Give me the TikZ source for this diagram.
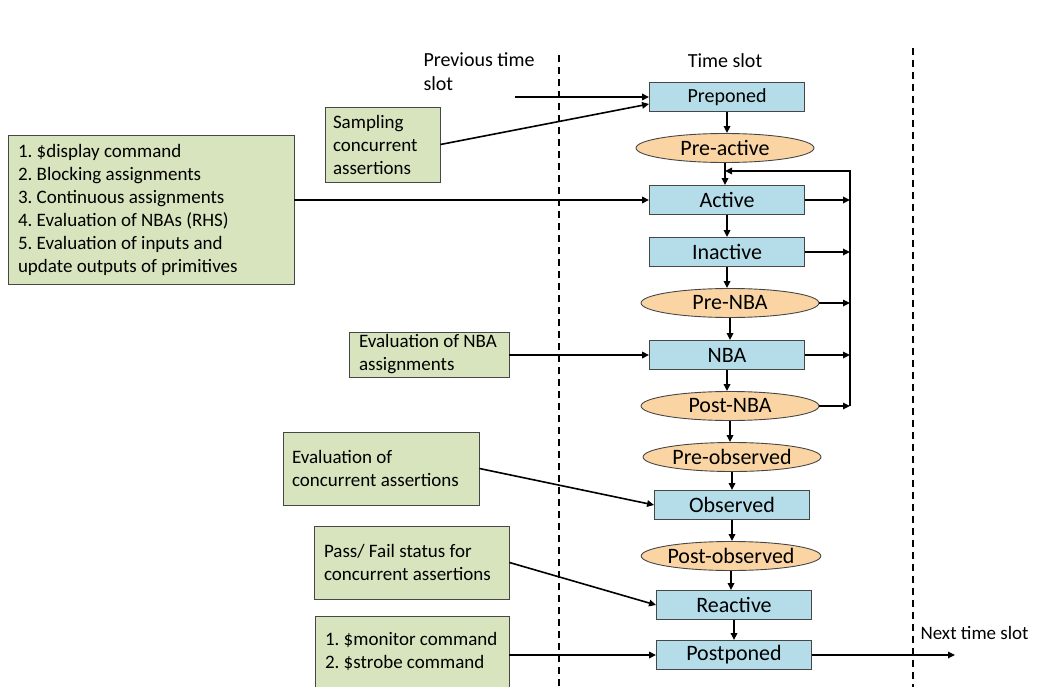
\documentclass[tikz,border=0pt]{standalone}
\usepackage{fontspec}
\setmainfont{Carlito}
\frenchspacing
\usetikzlibrary{shapes.geometric,arrows.meta,calc}

\definecolor{slotblue}{RGB}{180,221,233}
\definecolor{slotpeach}{RGB}{250,213,163}
\definecolor{notegreen}{RGB}{215,228,189}
\definecolor{edgegray}{RGB}{70,70,70}

\begin{document}
\begin{tikzpicture}[x=1pt,y=-1pt,
    stage/.style={draw=edgegray,fill=slotblue,line width=0.9pt,minimum width=155pt,minimum height=29pt,inner sep=0pt,font=\fontsize{22}{26}\selectfont},
    region/.style={ellipse,draw=edgegray,fill=slotpeach,line width=0.9pt,minimum width=178pt,minimum height=29pt,inner sep=0pt,font=\fontsize{22}{26}\selectfont},
    note/.style={draw=edgegray,fill=notegreen,line width=0.9pt,align=flush left,inner ysep=0pt,font=\fontsize{19}{23}\selectfont},
    flow/.style={-{Triangle[length=7pt,width=6.5pt]},line width=1.6pt},
    slotline/.style={line width=1.6pt,dash pattern=on 7pt off 5pt}]

  \useasboundingbox (0,0) rectangle (1046,687);

  % time slot boundaries
  \draw[slotline] (559,55) -- (559,687);
  \draw[slotline] (913,48) -- (913,687);

  \node[anchor=north west,align=flush left,font=\fontsize{20}{24}\selectfont] (prevlbl) at (420,49) {Previous time\\slot};
  \node[font=\fontsize{20}{24}\selectfont] (slotlbl) at (725,61) {Time slot};
  \node[anchor=west,font=\fontsize{19}{23}\selectfont] (nextlbl) at (917,633) {Next time slot};

  % regions of the time slot
  \node[stage,font=\fontsize{20}{24}\selectfont] (pre) at (727,97) {Preponed};
  \node[region] (preact) at (725,148) {Pre-active};
  \node[stage] (act) at (727,200) {Active};
  \node[stage] (inact) at (727,252) {Inactive};
  \node[region] (prenba) at (730,303) {Pre-NBA};
  \node[stage] (nba) at (727,355) {NBA};
  \node[region] (postnba) at (730,406) {Post-NBA};
  \node[region] (preobs) at (732,457) {Pre-observed};
  \node[stage] (obs) at (732,505) {Observed};
  \node[region] (postobs) at (731,556) {Post-observed};
  \node[stage] (react) at (734,605) {Reactive};
  \node[stage] (post) at (734,655) {Postponed};

  \foreach \a/\b in {pre/preact,preact/act,act/inact,inact/prenba,prenba/nba,nba/postnba,postnba/preobs,preobs/obs,obs/postobs,postobs/react,react/post}
  {
    \draw[flow] (\a.south) -- (\a.south |- \b.north);
  }

  % loop back to active
  \coordinate (fbtop) at (850,171);
  \coordinate (fbbot) at (850,406);
  \foreach \n in {act,inact,prenba,nba,postnba}
  {
    \draw[flow] (\n.east) -- (\n.east -| fbtop);
  }
  \draw[flow] (fbbot) -- (fbtop) -- (preact.south |- fbtop);

  % what happens where
  \node[note,inner xsep=8pt,text width=99pt,minimum height=75pt] (samp) at (382.5,144.5) {Sampling\\concurrent\\assertions};
  \node[note,inner xsep=10pt,text width=266pt,minimum height=149pt] (cmds) at (151,209.5) {1. \$display command\\2. Blocking assignments\\3. Continuous assignments\\4. Evaluation of NBAs (RHS)\\5. Evaluation of inputs and\\update outputs of primitives};
  \node[note,inner xsep=10pt,text width=140pt,minimum height=45pt] (nbaeval) at (429,354.5) {Evaluation of NBA\\assignments};
  \node[note,inner xsep=9pt,text width=178pt,minimum height=73pt] (obseval) at (381,468.5) {Evaluation of\\concurrent assertions};
  \node[note,inner xsep=10pt,text width=175pt,minimum height=73pt] (passfail) at (411.5,562.5) {Pass/ Fail status for\\concurrent assertions};
  \node[note,inner xsep=10pt,text width=174pt,minimum height=71pt] (mon) at (412,651.5) {1. \$monitor command\\2. \$strobe command};

  \coordinate (prevstart) at (515,97);
  \coordinate (nextend) at (955,655);
  \draw[flow] (prevstart) -- (pre.west);
  \draw[flow] (samp.east) -- ($(pre.west)+(0,7)$);
  \draw[flow] (cmds.east |- act.west) -- (act.west);
  \draw[flow] (nbaeval.east |- nba.west) -- (nba.west);
  \draw[flow] (obseval.east) -- (obs.west);
  \draw[flow] (passfail.east) -- (react.west);
  \draw[flow] (mon.east |- post.west) -- (post.west);
  \draw[flow] (post.east) -- (nextend);

\end{tikzpicture}
\end{document}
